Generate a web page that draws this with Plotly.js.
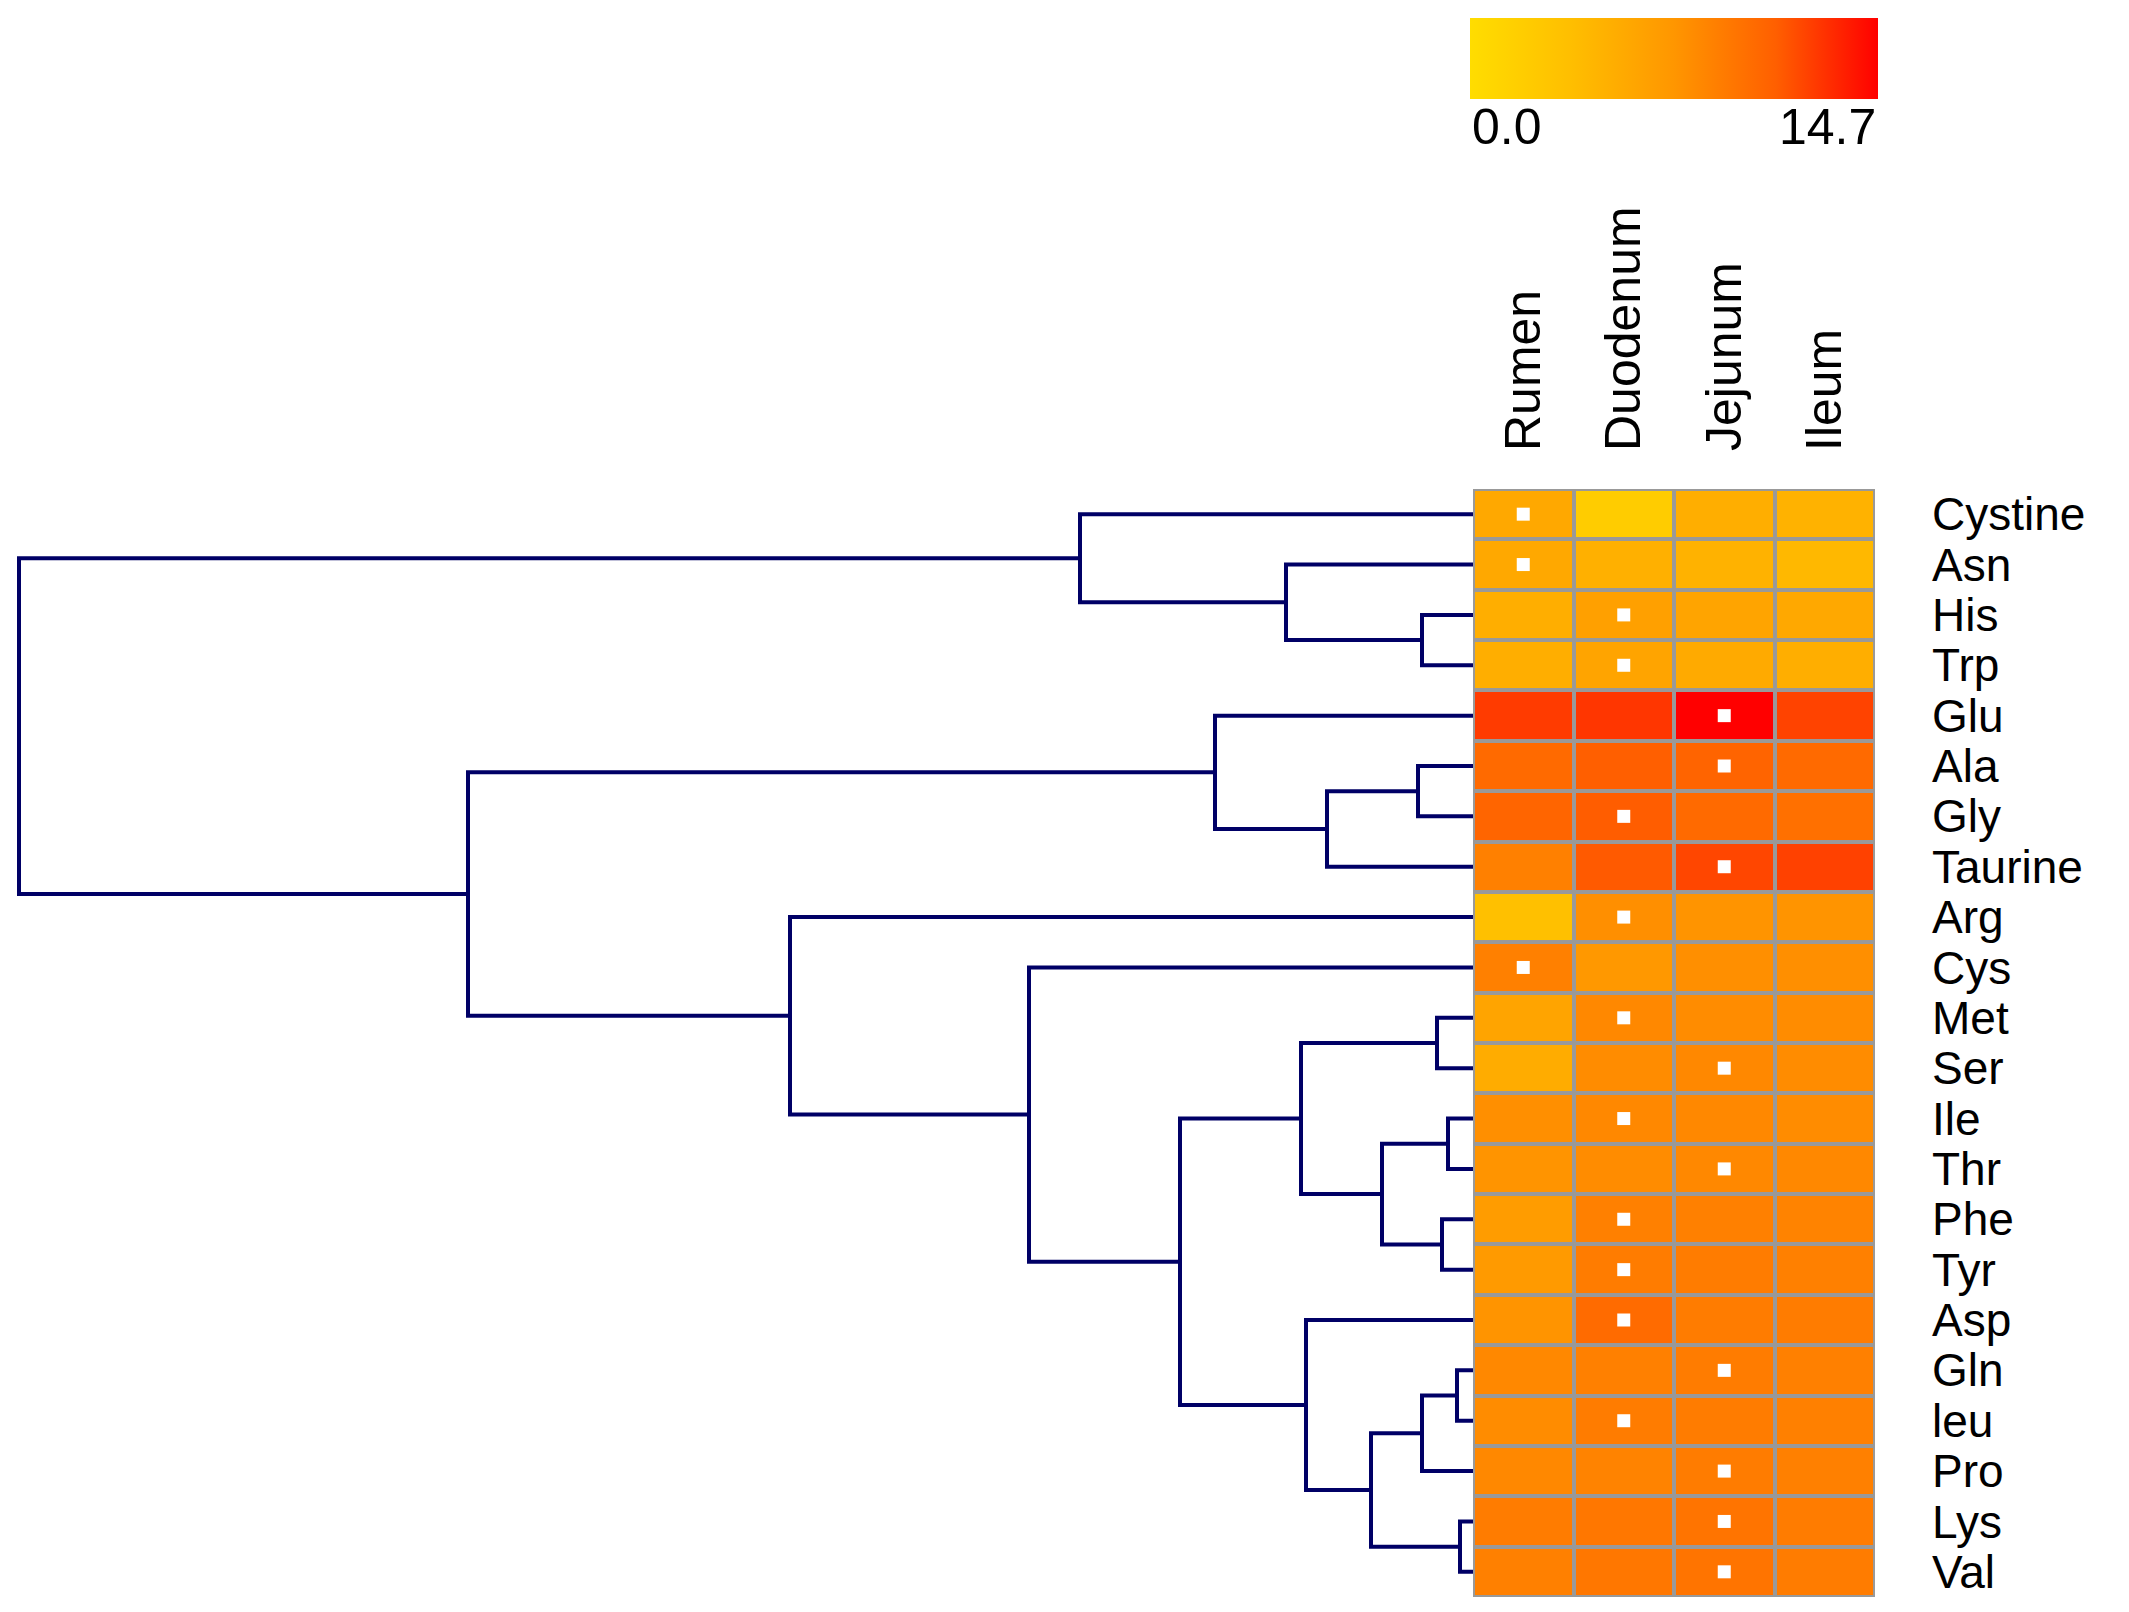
<!DOCTYPE html>
<html>
<head>
<meta charset="utf-8">
<script src="https://cdn.plot.ly/plotly-3.0.1.min.js"></script>
<style>
html, body { margin: 0; padding: 0; background: #ffffff; }
#chart { width: 2129px; height: 1612px; }
</style>
</head>
<body>
<div id="chart"></div>
<script>
// ---------------- data ----------------
const rows = ['Cystine','Asn','His','Trp','Glu','Ala','Gly','Taurine','Arg','Cys','Met',
              'Ser','Ile','Thr','Phe','Tyr','Asp','Gln','leu','Pro','Lys','Val'];
const columns = ['Rumen','Duodenum','Jejunum','Ileum'];

const rumen    = [5.7, 5.7, 5.1, 5.1, 12.4, 10.3, 10.6, 8.8, 3.4, 8.8, 6.1, 5.3, 7.8, 7.5, 6.8, 7.0, 7.5, 8.3, 8.0, 8.3, 9.1, 8.8];
const duodenum = [2.0, 5.0, 6.4, 6.1, 12.6, 11.0, 11.1, 11.2, 7.8, 7.2, 8.3, 8.0, 8.3, 8.0, 8.8, 9.1, 10.2, 8.8, 9.1, 8.6, 9.4, 9.4];
const jejunum  = [5.1, 4.8, 6.1, 5.5, 14.7, 10.7, 10.3, 12.0, 7.5, 7.8, 8.0, 8.3, 8.3, 8.3, 8.8, 9.1, 9.1, 9.1, 9.1, 9.1, 9.6, 9.6];
const ileum    = [4.8, 4.2, 5.7, 5.1, 12.1, 10.3, 9.9, 12.2, 7.5, 7.8, 8.0, 8.0, 8.0, 8.3, 8.6, 8.8, 9.1, 8.8, 8.8, 8.8, 9.1, 9.1];

// column of the white square marker in each row
const markedColumn = ['Rumen','Rumen','Duodenum','Duodenum','Jejunum','Jejunum','Duodenum','Jejunum',
                      'Duodenum','Rumen','Duodenum','Jejunum','Duodenum','Jejunum','Duodenum','Duodenum',
                      'Duodenum','Jejunum','Duodenum','Jejunum','Jejunum','Jejunum'];

// hierarchical clustering merges: [child A, child B, height]; ids >= 22 are earlier merges
const mergeA      = [2, 1, 0, 5, 25, 4, 10, 12, 14, 29, 28, 17, 33, 20, 34, 16, 32, 9, 8, 27, 24];
const mergeB      = [3, 22, 23, 6, 7, 26, 11, 13, 15, 30, 31, 18, 19, 21, 35, 36, 37, 38, 39, 40, 41];
const mergeHeight = [0.51, 1.87, 3.93, 0.55, 1.46, 2.58, 0.36, 0.25, 0.31, 0.91, 1.72, 0.16, 0.51, 0.13, 1.02, 1.67, 2.93, 4.44, 6.83, 10.05, 14.54];

const zMin = 0.0, zMax = 14.7;
const colorTickLabels = ['0.0', '14.7'];

// ---------------- build ----------------
const z = rows.map((r, i) => [rumen[i], duodenum[i], jejunum[i], ileum[i]]);
const rowIdx = rows.map((r, i) => i);

const nodeX = rows.map(() => 0);
const nodeY = rows.map((r, i) => i);
const dx = [], dy = [];
for (let k = 0; k < mergeA.length; k++) {
  const a = mergeA[k], b = mergeB[k], h = mergeHeight[k];
  dx.push(nodeX[a], h, h, nodeX[b], null);
  dy.push(nodeY[a], nodeY[a], nodeY[b], nodeY[b], null);
  nodeX.push(h);
  nodeY.push((nodeY[a] + nodeY[b]) / 2);
}

const W = 2129, H = 1612;
const heatL = 1473, heatR = 1875, heatT = 489, heatB = 1597;
const font = 'Liberation Sans, Arial, sans-serif';

const colorscale = [
  [0.00, '#FFDD00'],
  [0.25, '#FFBE00'],
  [0.50, '#FF9600'],
  [0.75, '#FF5F00'],
  [1.00, '#FF0000']
];

const heat = {
  type: 'heatmap',
  x: columns, y: rowIdx, z: z,
  zmin: zMin, zmax: zMax,
  colorscale: colorscale,
  xgap: 4, ygap: 4,
  xaxis: 'x', yaxis: 'y',
  hoverinfo: 'x+z',
  colorbar: {
    orientation: 'h',
    x: (1470 + 1878) / 2 / W, xanchor: 'center',
    y: (heatB - 18) / (heatB - heatT), yanchor: 'top',
    len: 408, lenmode: 'pixels',
    thickness: 81, thicknessmode: 'pixels',
    xpad: 0, ypad: 0,
    outlinewidth: 0,
    ticks: '', showticklabels: false
  }
};

const marks = {
  type: 'scatter', mode: 'markers',
  x: markedColumn, y: rowIdx,
  xaxis: 'x', yaxis: 'y',
  marker: { symbol: 'square', size: 13, color: '#ffffff' },
  hoverinfo: 'skip', showlegend: false
};

const dendro = {
  type: 'scatter', mode: 'lines',
  x: dx, y: dy,
  xaxis: 'x2', yaxis: 'y',
  line: { color: '#000066', width: 4 },
  cliponaxis: false,
  hoverinfo: 'skip', showlegend: false
};

const layout = {
  width: W, height: H, autosize: false,
  margin: { l: 0, r: 0, t: heatT, b: H - heatB, pad: 0 },
  paper_bgcolor: '#ffffff', plot_bgcolor: '#ffffff',
  showlegend: false,
  font: { family: font, color: '#000000' },
  xaxis: {
    type: 'category',
    domain: [heatL / W, heatR / W],
    range: [-0.5, 3.5],
    side: 'top', anchor: 'y',
    tickangle: -90,
    ticks: '', ticklabelstandoff: 37,
    tickfont: { size: 50, family: font, color: '#000000' },
    showgrid: false, zeroline: false, showline: false, fixedrange: true
  },
  xaxis2: {
    domain: [0, heatL / W],
    range: [heatL / 100, 0],
    anchor: 'y',
    visible: false, showgrid: false, zeroline: false, fixedrange: true
  },
  yaxis: {
    range: [rows.length - 0.5, -0.5],
    anchor: 'x', side: 'right',
    tickmode: 'array', tickvals: rowIdx, ticktext: rows,
    ticks: '', ticklabelstandoff: 56,
    tickfont: { size: 46, family: font, color: '#000000' },
    showgrid: false, zeroline: false, showline: false, fixedrange: true
  },
  shapes: [{
    type: 'rect', xref: 'x domain', yref: 'y domain',
    x0: 0, x1: 1, y0: 0, y1: 1,
    fillcolor: '#999999', line: { width: 0 }, layer: 'below'
  }],
  annotations: [
    { text: colorTickLabels[0], xref: 'paper', yref: 'paper',
      x: 1470 / W, xanchor: 'left',
      y: (heatB - 127) / (heatB - heatT), yanchor: 'middle',
      showarrow: false, font: { size: 50, family: font, color: '#000000' } },
    { text: colorTickLabels[1], xref: 'paper', yref: 'paper',
      x: 1878 / W, xanchor: 'right',
      y: (heatB - 127) / (heatB - heatT), yanchor: 'middle',
      showarrow: false, font: { size: 50, family: font, color: '#000000' } }
  ]
};

Plotly.newPlot('chart', [heat, marks, dendro], layout, { displayModeBar: false, staticPlot: true });
</script>
</body>
</html>
